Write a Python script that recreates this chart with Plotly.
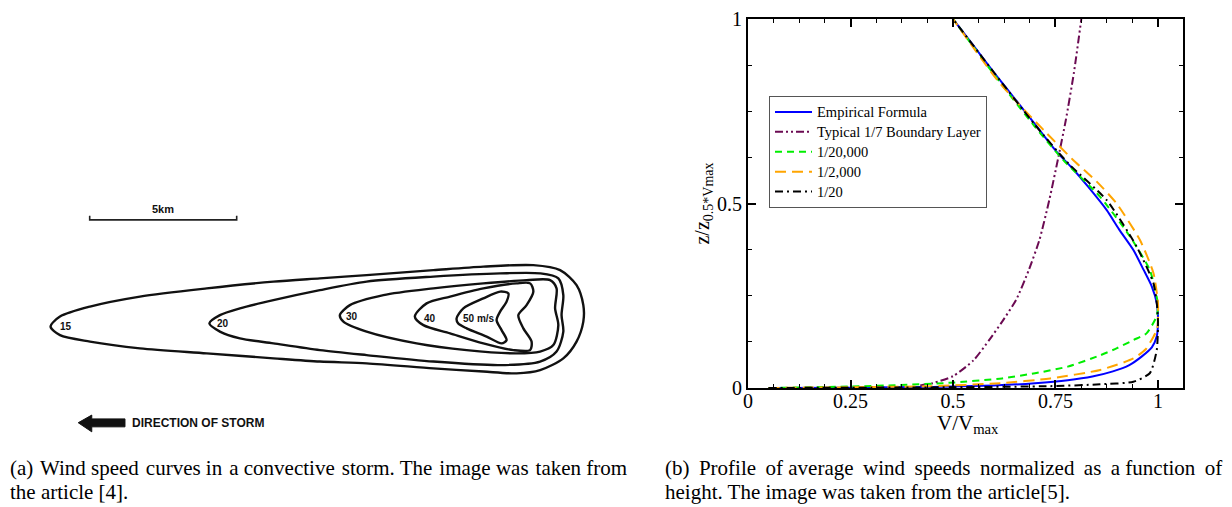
import plotly.graph_objects as go

# ---------------- Right panel data (V/Vmax vs z/z0.5Vmax) ----------------
emp_x = [0.05, 0.25, 0.45, 0.60, 0.70, 0.78, 0.84, 0.89, 0.93, 0.96, 0.985, 0.997, 1.0, 0.997, 0.985,
         0.965, 0.94, 0.905, 0.875, 0.83, 0.79, 0.753, 0.70, 0.65, 0.60, 0.55, 0.50]
emp_y = [0.0, 0.001, 0.003, 0.007, 0.013, 0.021, 0.031, 0.045, 0.062, 0.085, 0.11, 0.14, 0.18, 0.23, 0.275,
         0.32, 0.374, 0.43, 0.482, 0.545, 0.597, 0.64, 0.715, 0.785, 0.855, 0.928, 1.0]

bl_x = [0.42, 0.45, 0.50, 0.55, 0.589, 0.62, 0.654, 0.685, 0.711, 0.735, 0.756, 0.775, 0.795, 0.813]
bl_y = [0.007, 0.013, 0.032, 0.075, 0.131, 0.18, 0.239, 0.32, 0.402, 0.51, 0.62, 0.725, 0.855, 1.0]

g20k_x = [0.05, 0.25, 0.37, 0.49, 0.62, 0.70, 0.78, 0.86, 0.90, 0.94, 0.972, 0.997, 1.0, 0.995, 0.98,
          0.932, 0.859, 0.769, 0.70, 0.60, 0.50]
g20k_y = [0.0, 0.004, 0.008, 0.014, 0.026, 0.040, 0.058, 0.089, 0.108, 0.130, 0.148, 0.195, 0.225, 0.257, 0.32,
          0.41, 0.518, 0.618, 0.708, 0.85, 1.0]

o2k_x = [0.05, 0.25, 0.45, 0.615, 0.737, 0.859, 0.94, 0.97, 0.989, 0.998, 1.0, 1.0, 0.989, 0.956, 0.899,
         0.85, 0.793, 0.729, 0.615, 0.50]
o2k_y = [0.0, 0.002, 0.005, 0.013, 0.026, 0.049, 0.080, 0.105, 0.139, 0.16, 0.19, 0.23, 0.311, 0.401, 0.50,
         0.56, 0.618, 0.69, 0.825, 1.0]

k20_x = [0.05, 0.30, 0.50, 0.737, 0.859, 0.94, 0.98, 0.997, 1.0, 0.997, 0.989, 0.948, 0.875, 0.781, 0.70,
         0.60, 0.50]
k20_y = [0.0, 0.001, 0.002, 0.005, 0.010, 0.017, 0.040, 0.103, 0.18, 0.23, 0.284, 0.383, 0.509, 0.609, 0.713,
         0.855, 1.0]

series_names = ["Empirical Formula", "Typical 1/7 Boundary Layer", "1/20,000", "1/2,000", "1/20"]
x_ticks = [0, 0.25, 0.5, 0.75, 1]
x_tick_text = ["0", "0.25", "0.5", "0.75", "1"]
y_ticks = [0, 0.5, 1]
y_tick_text = ["0", "0.5", "1"]

# ---------------- Left panel data (storm wind-speed contours, km) ----------------
c15_x = [0.02, 0.34, 1.36, 3.06, 5.33, 7.60, 9.18, 10.77, 13.04, 14.74, 16.44, 17.35, 17.91, 18.14, 18.14,
         17.91, 17.46, 16.67, 15.87, 14.74, 13.04, 10.77, 9.18, 7.60, 5.33, 3.06, 1.36, 0.34, 0.02]
c15_y = [-0.02, 0.32, 0.66, 1.00, 1.28, 1.51, 1.62, 1.73, 1.90, 2.02, 2.07, 1.90, 1.39, 0.71, 0.15,
         -0.53, -1.10, -1.50, -1.61, -1.55, -1.44, -1.27, -1.21, -1.10, -0.93, -0.76, -0.53, -0.31, -0.02]

c20_x = [5.42, 5.78, 6.46, 7.60, 9.18, 10.77, 13.04, 15.31, 16.67, 17.29, 17.46, 17.40, 17.46, 17.23,
         16.67, 15.31, 13.04, 10.77, 9.18, 7.60, 6.46, 5.78, 5.42]
c20_y = [0.09, 0.37, 0.60, 0.88, 1.22, 1.51, 1.68, 1.79, 1.79, 1.62, 1.05, 0.37, -0.19, -0.87,
         -1.21, -1.33, -1.21, -0.99, -0.82, -0.59, -0.42, -0.19, 0.09]

c30_x = [9.86, 10.20, 11.34, 13.04, 14.74, 16.21, 17.01, 17.23, 17.18, 17.29, 17.12, 16.67, 15.87,
         14.17, 12.47, 10.77, 9.98, 9.86]
c30_y = [0.37, 0.71, 1.05, 1.28, 1.45, 1.56, 1.56, 1.28, 0.60, 0.03, -0.65, -0.87, -0.93,
         -0.82, -0.59, -0.19, 0.15, 0.37]

c40_x = [12.41, 12.81, 13.61, 14.74, 15.87, 16.33, 16.44, 16.21, 15.93, 16.10, 16.38, 16.33, 15.76,
         14.74, 13.61, 12.70, 12.41]
c40_y = [0.32, 0.77, 1.00, 1.28, 1.45, 1.45, 1.17, 0.71, 0.37, -0.08, -0.53, -0.82, -0.82,
         -0.59, -0.25, 0.03, 0.32]

c50_x = [13.83, 14.06, 14.74, 15.31, 15.59, 15.53, 15.31, 15.19, 15.36, 15.53, 15.36, 14.85, 14.17,
         13.88, 13.83]
c50_y = [0.26, 0.60, 0.94, 1.17, 1.11, 0.83, 0.49, 0.20, -0.14, -0.48, -0.59, -0.36, -0.08,
         0.09, 0.26]

contour_labels = ["15", "20", "30", "40", "50 m/s"]
label_x = [0.54, 5.88, 10.26, 12.93, 14.59]
label_y = [-0.02, 0.09, 0.32, 0.26, 0.26]

scale_x = [1.35, 1.35, 6.35, 6.35]
scale_y = [3.75, 3.61, 3.61, 3.75]
scale_text = "5km"

arrow_x = [0.96, 1.42, 1.42, 2.55, 2.55, 1.42, 1.42, 0.96]
arrow_y = [-3.29, -3.03, -3.16, -3.16, -3.43, -3.43, -3.60, -3.29]
arrow_text = "DIRECTION OF STORM"

TS = "\u2009"
HS = "\u200a"
caption_a = ["(a)" + HS + " Wind speed" + HS + " curves in" + HS + " a convective" + HS + " storm. The" + HS +
             " image was" + HS + " taken from",
             "the article [4]."]
caption_b = ["(b)" + TS + " Profile" + TS + " of average" + TS + " wind" + TS + " speeds" + TS +
             " normalized" + TS + " as" + TS + " a function" + TS + " of",
             "height. The image was taken from the article[5]."]

# ---------------- Figure ----------------
W, H = 1232, 507
SERIF = "Liberation Serif, Times New Roman, serif"
SANS = "Liberation Sans, Arial, sans-serif"

fig = go.Figure()

styles = [
    dict(color="#0000ff", width=2, dash="solid"),
    dict(color="#6b0a52", width=2, dash="8px,3px,2px,3px,2px,3px"),
    dict(color="#00ee00", width=2, dash="7px,5px"),
    dict(color="#ffa500", width=2, dash="11px,6px"),
    dict(color="#000000", width=2, dash="8px,4px,2px,4px"),
]
data_sets = [(emp_x, emp_y), (bl_x, bl_y), (g20k_x, g20k_y), (o2k_x, o2k_y), (k20_x, k20_y)]
for (xs, ys), name, st in zip(data_sets, series_names, styles):
    fig.add_trace(go.Scatter(x=xs, y=ys, mode="lines",
                             name='<span style="font-size:14.5px">%s</span>' % name,
                             line=dict(shape="spline", smoothing=0.6, **st),
                             xaxis="x", yaxis="y", hoverinfo="skip"))

# left panel contours
for cx, cy in [(c15_x, c15_y), (c20_x, c20_y), (c30_x, c30_y), (c40_x, c40_y), (c50_x, c50_y)]:
    fig.add_trace(go.Scatter(x=cx, y=cy, mode="lines", showlegend=False,
                             line=dict(color="#111111", width=2.4, shape="spline", smoothing=0.8),
                             xaxis="x2", yaxis="y2", hoverinfo="skip"))
fig.add_trace(go.Scatter(x=scale_x, y=scale_y, mode="lines", showlegend=False,
                         line=dict(color="#222222", width=1.6), xaxis="x2", yaxis="y2", hoverinfo="skip"))
fig.add_trace(go.Scatter(x=arrow_x, y=arrow_y, mode="lines", fill="toself", fillcolor="#111111",
                         showlegend=False, line=dict(color="#111111", width=1),
                         xaxis="x2", yaxis="y2", hoverinfo="skip"))

annotations = []
for t, lx, ly in zip(contour_labels, label_x, label_y):
    annotations.append(dict(x=lx, y=ly, xref="x2", yref="y2", text="<b>%s</b>" % t, showarrow=False,
                            font=dict(family=SANS, size=10, color="#111111"), xanchor="center", yanchor="middle"))
annotations.append(dict(x=(scale_x[0] + scale_x[-1]) / 2, y=3.98, xref="x2", yref="y2", text="<b>%s</b>" % scale_text,
                        showarrow=False, font=dict(family=SANS, size=11, color="#111111"),
                        xanchor="center", yanchor="middle"))
annotations.append(dict(x=2.72, y=-3.29, xref="x2", yref="y2", text="<b>%s</b>" % arrow_text, showarrow=False,
                        font=dict(family=SANS, size=12, color="#111111"), xanchor="left", yanchor="middle"))

# x-axis title of the right panel
annotations.append(dict(x=968 / W, y=1 - 409 / H, xref="paper", yref="paper", text="V/V<sub>max</sub>",
                        showarrow=False, font=dict(family=SERIF, size=21, color="black"),
                        xanchor="center", yanchor="top"))

# captions
for i, line in enumerate(caption_a):
    annotations.append(dict(x=8 / W, y=1 - (468 + 24 * i) / H, xref="paper", yref="paper", text=line,
                            showarrow=False, font=dict(family=SERIF, size=21, color="#000000"),
                            xanchor="left", yanchor="middle"))
for i, line in enumerate(caption_b):
    annotations.append(dict(x=663 / W, y=1 - (468 + 24 * i) / H, xref="paper", yref="paper", text=line,
                            showarrow=False, font=dict(family=SERIF, size=21, color="#000000"),
                            xanchor="left", yanchor="middle"))

axis_common = dict(showline=True, linecolor="black", linewidth=2, mirror="allticks", ticks="inside",
                   tickcolor="black", tickwidth=1.5, ticklen=8, showgrid=False, zeroline=False,
                   automargin=False,
                   tickfont=dict(family=SERIF, size=20, color="black"))

fig.update_layout(
    width=W, height=H, margin=dict(l=0, r=0, t=0, b=0, pad=0, autoexpand=False),
    paper_bgcolor="white", plot_bgcolor="white",
    showlegend=True,
    legend=dict(x=769 / W, y=1 - 96 / H, xanchor="left", yanchor="top", itemwidth=37,
                bgcolor="white", bordercolor="#555555", borderwidth=1,
                font=dict(family=SERIF, size=13, color="black"), tracegroupgap=0),
    xaxis=dict(domain=[748 / W, 1183 / W], range=[0, 1.061], tickvals=x_ticks, ticktext=x_tick_text,
               minor=dict(ticks="inside", dtick=0.0625, tick0=0, ticklen=4, tickcolor="black", tickwidth=1.2),
               ticklabelstandoff=-6, anchor="y", **axis_common),
    yaxis=dict(domain=[1 - 388 / H, 1 - 19 / H], range=[0, 1], tickvals=y_ticks, ticktext=y_tick_text,
               minor=dict(ticks="inside", dtick=0.125, tick0=0, ticklen=4, tickcolor="black", tickwidth=1.2),
               title=dict(text="z/z<sub>0.5*Vmax</sub>", font=dict(family=SERIF, size=20, color="black"), standoff=2),
               anchor="x", **axis_common),
    xaxis2=dict(domain=[0, 620 / W], range=[(0 - 50) / 29.4, (620 - 50) / 29.4], visible=False,
                anchor="y2", automargin=False),
    yaxis2=dict(domain=[1 - 440 / H, 1 - 180 / H], range=[(326 - 440) / 29.4, (326 - 180) / 29.4],
                visible=False, anchor="x2", automargin=False),
    annotations=annotations,
)

fig.write_html("out.html")
